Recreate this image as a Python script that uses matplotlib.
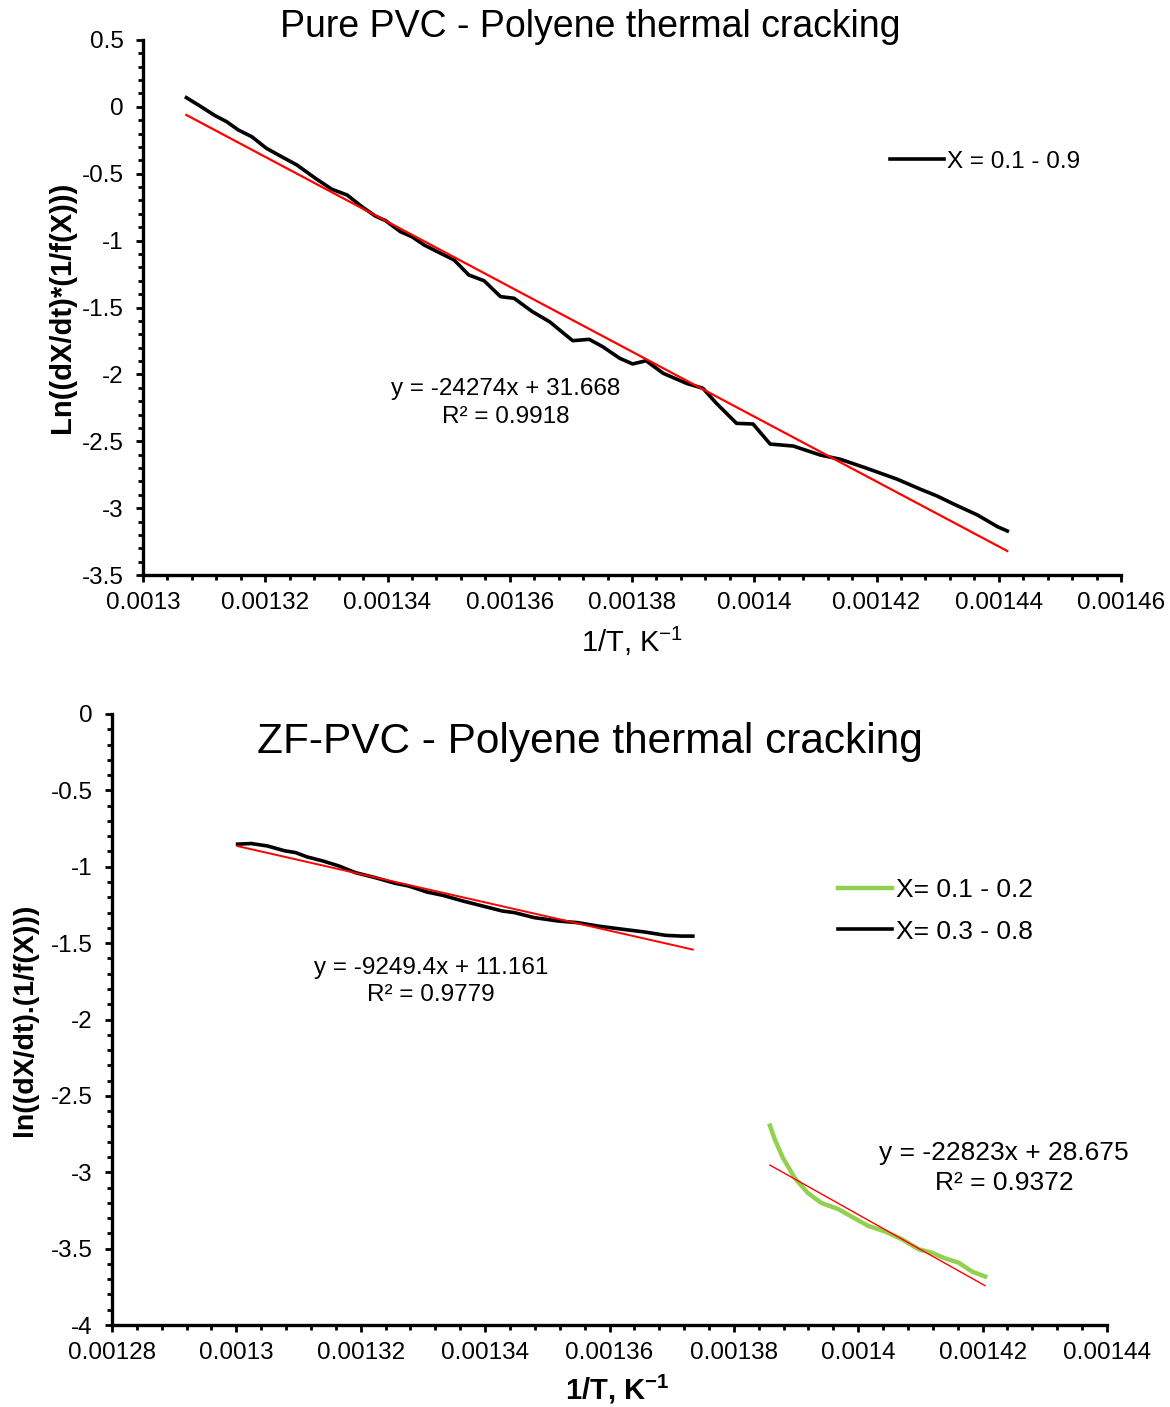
import numpy as np
import matplotlib.pyplot as plt
from matplotlib.ticker import MultipleLocator, FuncFormatter

plt.rcParams['font.family'] = ['Liberation Sans', 'DejaVu Sans']
plt.rcParams['mathtext.fontset'] = 'custom'
plt.rcParams['mathtext.rm'] = 'Liberation Sans'
plt.rcParams['mathtext.bf'] = 'Liberation Sans:bold'

# Pure PVC, X = 0.1 - 0.9
pure_x = [0.0013071, 0.0013093, 0.0013118, 0.0013137, 0.0013156, 0.0013178, 0.0013202,
          0.0013227, 0.0013252, 0.0013282, 0.0013309, 0.0013334, 0.0013358, 0.0013380,
          0.0013397, 0.0013421, 0.0013440, 0.0013460, 0.0013487, 0.0013509, 0.0013533,
          0.0013558, 0.0013585, 0.0013607, 0.0013637, 0.0013665, 0.0013703, 0.0013730,
          0.0013752, 0.0013780, 0.0013801, 0.0013823, 0.0013851, 0.0013889, 0.0013916,
          0.0013938, 0.0013971, 0.0013998, 0.0014026, 0.0014064, 0.0014108, 0.0014141,
          0.0014184, 0.0014234, 0.0014272, 0.0014299, 0.0014326, 0.0014365, 0.0014398,
          0.0014414]
pure_y = [0.069, 0.007, -0.066, -0.111, -0.173, -0.223, -0.310, -0.373, -0.435, -0.534,
          -0.616, -0.659, -0.746, -0.816, -0.851, -0.933, -0.971, -1.033, -1.095, -1.145,
          -1.257, -1.300, -1.419, -1.431, -1.531, -1.606, -1.748, -1.738, -1.793, -1.880,
          -1.922, -1.898, -1.992, -2.067, -2.104, -2.216, -2.366, -2.371, -2.521, -2.536,
          -2.603, -2.635, -2.702, -2.784, -2.859, -2.909, -2.969, -3.051, -3.139, -3.171]
pure_fit = (-24274, 31.668, 0.9918)

# ZF-PVC, X = 0.3 - 0.8
zf_hi_x = [0.0013002, 0.0013024, 0.0013050, 0.0013078, 0.0013095, 0.0013114, 0.0013139,
           0.0013165, 0.0013191, 0.0013223, 0.0013255, 0.0013277, 0.0013306, 0.0013332,
           0.0013364, 0.0013396, 0.0013428, 0.0013447, 0.0013479, 0.0013517, 0.0013549,
           0.0013581, 0.0013613, 0.0013658, 0.0013690, 0.0013716, 0.0013734]
zf_hi_y = [-0.852, -0.848, -0.864, -0.896, -0.907, -0.936, -0.962, -0.995, -1.038, -1.071,
           -1.108, -1.126, -1.165, -1.187, -1.224, -1.257, -1.290, -1.300, -1.333, -1.355,
           -1.366, -1.388, -1.405, -1.428, -1.449, -1.454, -1.454]
zf_hi_fit = (-9249.4, 11.161, 0.9779)

# ZF-PVC, X = 0.1 - 0.2
zf_lo_x = [0.0013858, 0.0013866, 0.0013879, 0.0013898, 0.0013919, 0.0013941, 0.0013968,
           0.0013989, 0.0014016, 0.0014043, 0.0014070, 0.0014097, 0.0014118, 0.0014139,
           0.0014161, 0.0014183, 0.0014204]
zf_lo_y = [-2.695, -2.787, -2.907, -3.038, -3.136, -3.202, -3.241, -3.290, -3.351, -3.388,
           -3.438, -3.504, -3.526, -3.563, -3.591, -3.650, -3.683]
zf_lo_fit = (-22823, 28.675, 0.9372)

GREEN = '#92d050'
FS = 17.5
LFS = 21


def fit_line(ax, x, fit, lw):
    xs = np.array([x[0], x[-1]])
    ax.plot(xs, fit[0] * xs + fit[1], color='red', lw=lw, zorder=3)


def eq_text(ax, fit, xf, y1, y2, fs=FS):
    ax.text(xf, y1, f"y = {fit[0]:g}x + {fit[1]:g}", transform=ax.transAxes,
            ha='center', va='center', fontsize=fs)
    ax.text(xf, y2, f"R² = {fit[2]:g}", transform=ax.transAxes,
            ha='center', va='center', fontsize=fs)


def style(ax, xlim, ylim):
    ax.set_xlim(*xlim)
    ax.set_ylim(*ylim)
    for s in ['top', 'right']:
        ax.spines[s].set_visible(False)
    for s in ['left', 'bottom']:
        ax.spines[s].set_linewidth(2.4)
    ax.xaxis.set_major_locator(MultipleLocator(0.00002))
    ax.xaxis.set_minor_locator(MultipleLocator(0.000004))
    ax.yaxis.set_major_locator(MultipleLocator(0.5))
    ax.yaxis.set_minor_locator(MultipleLocator(0.1))
    ax.xaxis.set_major_formatter(FuncFormatter(lambda v, p: f"{round(v, 7):g}"))
    ax.yaxis.set_major_formatter(FuncFormatter(lambda v, p: f"{round(v, 2):g}"))
    ax.tick_params(which='major', direction='out', length=5, width=2, labelsize=FS, pad=7)
    ax.tick_params(which='minor', direction='out', length=3.5, width=2)
    ax.tick_params(axis='y', which='major', pad=9)


fig = plt.figure(figsize=(11.7, 14.07), dpi=100)

# top panel
ax1 = fig.add_axes([143 / 1170, 1 - 575 / 1407, 978 / 1170, 535 / 1407])
ax1.plot(pure_x, pure_y, color='black', lw=2.6, label='X = 0.1 - 0.9', zorder=2,
         solid_joinstyle='round')
fit_line(ax1, pure_x, pure_fit, 1.6)
style(ax1, (0.0013, 0.00146), (-3.5, 0.5))
eq_text(ax1, pure_fit, 0.371, 0.3477, 0.2953)
ax1.set_xlabel('1/T, K$^{-1}$', fontsize=LFS)
ax1.xaxis.set_label_coords(0.5, -0.125)
ax1.xaxis.label.set_va('center')
ax1.set_ylabel('Ln((dX/dt)*(1/f(X)))', fontsize=LFS, fontweight='bold')
ax1.yaxis.set_label_coords(-0.083, 0.5)
ax1.yaxis.label.set_va('center')
ax1.legend(loc='center left', bbox_to_anchor=(0.764, 0.772), frameon=False,
           fontsize=FS, handlelength=2.2, handletextpad=0.15, borderpad=0,
           borderaxespad=0)
fig.text(0.5043, 1 - 27 / 1407, 'Pure PVC - Polyene thermal cracking',
         ha='center', va='center', fontsize=27)

# bottom panel
ax2 = fig.add_axes([112 / 1170, 1 - 1325 / 1407, 995 / 1170, 611 / 1407])
ax2.plot(zf_lo_x, zf_lo_y, color=GREEN, lw=3.2, label='X= 0.1 - 0.2', zorder=2,
         solid_joinstyle='round')
ax2.plot(zf_hi_x, zf_hi_y, color='black', lw=2.6, label='X= 0.3 - 0.8', zorder=2,
         solid_joinstyle='round')
fit_line(ax2, zf_hi_x, zf_hi_fit, 1.4)
fit_line(ax2, zf_lo_x, zf_lo_fit, 1.0)
style(ax2, (0.00128, 0.00144), (-4, 0))
eq_text(ax2, zf_hi_fit, 0.3206, 0.5843, 0.540)
eq_text(ax2, zf_lo_fit, 0.8965, 0.2815, 0.2324, fs=19)
ax2.set_xlabel(r'1/T, K$^{\mathbf{-1}}$', fontsize=LFS, fontweight='bold')
ax2.xaxis.set_label_coords(0.508, -0.106)
ax2.xaxis.label.set_va('center')
ax2.set_ylabel('ln((dX/dt).(1/f(X)))', fontsize=LFS - 0.5, fontweight='bold')
ax2.yaxis.set_label_coords(-0.087, 0.5)
ax2.yaxis.label.set_va('center')
ax2.legend(loc='center left', bbox_to_anchor=(0.73, 0.678), frameon=False,
           fontsize=19, handlelength=2.05, handletextpad=0.15, borderpad=0,
           borderaxespad=0, labelspacing=0.67)
fig.text(0.5043, 1 - 742 / 1407, 'ZF-PVC - Polyene thermal cracking',
         ha='center', va='center', fontsize=30.5)

fig.savefig('out.png', dpi=100)
